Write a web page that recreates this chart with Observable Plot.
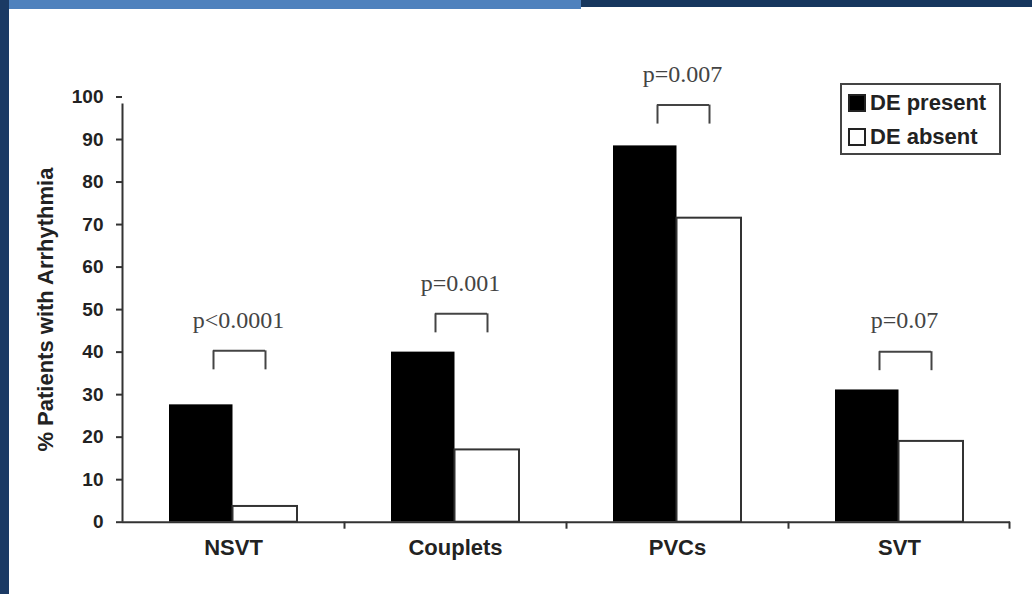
<!DOCTYPE html>
<html>
<head>
<meta charset="utf-8">
<script src="https://cdn.jsdelivr.net/npm/d3@7"></script>
<script src="https://cdn.jsdelivr.net/npm/@observablehq/plot@0.6"></script>
<style>
  html, body { margin: 0; padding: 0; background: #fff; }
  #wrap { position: relative; width: 1032px; height: 594px; overflow: hidden; background: #fff; }
  #chart { position: absolute; left: 0; top: 0; }
  .bar-left { position: absolute; left: 0; top: 0; width: 9px; height: 594px; background: #1b3a64; z-index: 5; }
  .bar-top1 { position: absolute; left: 9px; top: 0; width: 572px; height: 9px; background: #4e81bd; z-index: 5; }
  .bar-top2 { position: absolute; left: 581px; top: 0; width: 451px; height: 7px; background: #17375e; z-index: 5; }
  #legend { position: absolute; left: 840px; top: 83px; width: 157px; height: 68px; border: 2px solid #444;
            font-family: "Liberation Sans", Arial, sans-serif; font-weight: bold; font-size: 22px; color: #222; z-index: 4; background: #fff; }
  #legend .row { position: absolute; left: 6px; display: flex; align-items: center; }
  #legend .sw { width: 14px; height: 14px; border: 2px solid #222; box-sizing: content-box; margin-right: 4px; }
</style>
</head>
<body>
<div id="wrap">
  <div id="chart"></div>
  <div id="legend"></div>
  <div class="bar-left"></div>
  <div class="bar-top1"></div>
  <div class="bar-top2"></div>
</div>
<script>
// ---- data ----
const categories = ["NSVT", "Couplets", "PVCs", "SVT"];
const groups = ["DE present", "DE absent"];
const dePresent = [27.6, 40, 88.5, 31.1];
const deAbsent = [3.7, 17, 71.5, 19];
const pLabels = ["p<0.0001", "p=0.001", "p=0.007", "p=0.07"];
const bracketLevels = [40.3, 49, 98.1, 40.1];
const yTicks = [0, 10, 20, 30, 40, 50, 60, 70, 80, 90, 100];
const yLabel = "% Patients with Arrhythmia";

// ---- layout ----
const W = 1032, H = 594;
const mL = 122, mR = 22, mT = 96.5, mB = 72.3;
const bw = (W - mL - mR) / categories.length; // band width
const half = bw / 2;

const rows = categories.flatMap((c, i) => [
  {category: c, group: groups[0], value: dePresent[i]},
  {category: c, group: groups[1], value: deAbsent[i]}
]);
const ann = categories.map((c, i) => ({category: c, label: pLabels[i], level: bracketLevels[i]}));

const axisColor = "#333";
const sans = "'Liberation Sans', Arial, sans-serif";
const serif = "'Liberation Serif', 'Times New Roman', serif";

const plot = Plot.plot({
  width: W, height: H,
  marginLeft: mL, marginRight: mR, marginTop: mT, marginBottom: mB,
  style: {background: "transparent", fontFamily: sans, color: "#222", overflow: "visible"},
  x: {domain: categories, padding: 0, axis: null},
  y: {domain: [0, 100], axis: null},
  color: {domain: groups, range: ["#000", "#fff"]},
  marks: [
    // bars
    Plot.barY(rows.filter(d => d.group === groups[0]), {
      x: "category", y: "value", fill: "group",
      insetLeft: 47, insetRight: 111.5
    }),
    Plot.barY(rows.filter(d => d.group === groups[1]), {
      x: "category", y: "value", fill: "group", stroke: "#333", strokeWidth: 2,
      insetLeft: 110.5, insetRight: 47
    }),
    // y axis
    Plot.axisY({ticks: yTicks, tickSize: 6, tickPadding: 13, fontSize: 19, fontWeight: "bold",
      stroke: axisColor, strokeWidth: 2, label: null, fill: "#222"}),
    Plot.ruleX([categories[0]], {x: d => d, dx: -half, y1: 0, y2: 100, insetBottom: -7,
      stroke: axisColor, strokeWidth: 2}),
    // x axis line and boundary ticks
    Plot.ruleY([0], {stroke: axisColor, strokeWidth: 2}),
    Plot.ruleX(categories.slice(1), {x: d => d, dx: -half, y1: 0, y2: 0, insetBottom: -7,
      stroke: axisColor, strokeWidth: 2}),
    Plot.ruleX([categories[categories.length - 1]], {x: d => d, dx: half - 1, y1: 0, y2: 0, insetBottom: -7,
      stroke: axisColor, strokeWidth: 2}),
    Plot.axisX({tickSize: 0, tickPadding: 17, fontSize: 22, fontWeight: "bold", label: null, fill: "#222"}),
    // y label
    Plot.text([yLabel], {frameAnchor: "left", textAnchor: "middle", rotate: -90, dx: -77,
      fontSize: 22, fontWeight: "bold", fill: "#222"}),
    // significance brackets
    Plot.ruleY(ann, {x1: "category", x2: "category", y: "level", insetLeft: 91, insetRight: 79,
      stroke: "#444", strokeWidth: 2}),
    Plot.ruleX(ann, {x: "category", y1: "level", y2: "level", insetBottom: -19, dx: -20,
      stroke: "#444", strokeWidth: 2}),
    Plot.ruleX(ann, {x: "category", y1: "level", y2: "level", insetBottom: -19, dx: 32,
      stroke: "#444", strokeWidth: 2}),
    Plot.text(ann, {x: "category", y: "level", text: "label", dx: 5, dy: -31,
      fontFamily: serif, fontSize: 24, fill: "#444"})
  ]
});
document.getElementById("chart").appendChild(plot);

// legend built from the plot's colour scale
const cs = plot.scale("color");
const legend = document.getElementById("legend");
cs.domain.forEach((g, i) => {
  const row = document.createElement("div");
  row.className = "row";
  row.style.top = (i === 0 ? 5 : 39) + "px";
  const sw = document.createElement("div");
  sw.className = "sw";
  sw.style.background = cs.range[i];
  const t = document.createElement("span");
  t.textContent = g;
  row.appendChild(sw); row.appendChild(t);
  legend.appendChild(row);
});
</script>
</body>
</html>
